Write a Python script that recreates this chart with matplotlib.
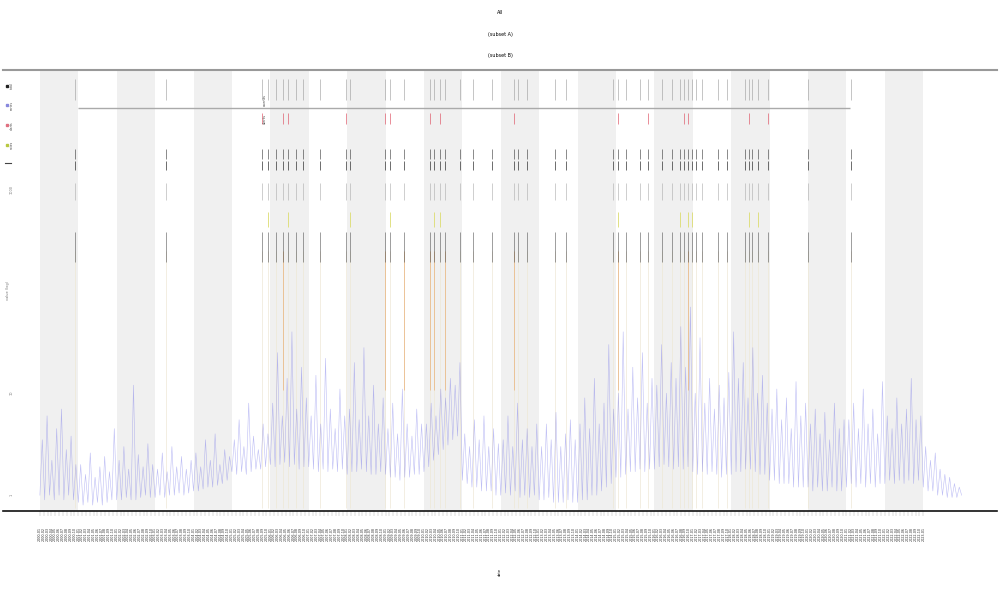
import numpy as np
import matplotlib
matplotlib.use("Agg")
import matplotlib.pyplot as plt

#Data
#Blue series, 16 samples per period (period = one shaded/unshaded band)
samples_per_period = 16
series_values = [
    1.0, 3.5, 0.9, 6.0, 1.0, 2.2, 0.9, 4.5, 1.0, 7.0, 0.9, 2.8, 1.0, 3.8, 0.9, 2.0,
    0.85, 2.0, 0.8, 1.6, 0.85, 2.6, 0.8, 1.5, 0.85, 1.9, 0.8, 2.4, 0.85, 1.7, 0.9, 4.5,
    0.9, 2.2, 0.9, 3.0, 0.95, 1.8, 0.9, 12.0, 0.9, 2.5, 0.95, 1.9, 1.0, 3.2, 0.95, 2.0,
    0.95, 1.8, 1.0, 2.6, 0.95, 1.7, 1.0, 3.0, 1.0, 1.9, 1.05, 2.4, 1.0, 1.8, 1.05, 2.2,
    1.1, 2.6, 1.1, 1.9, 1.15, 3.5, 1.2, 2.2, 1.2, 4.0, 1.25, 2.0, 1.3, 2.8, 1.4, 2.4,
    1.7, 3.5, 1.6, 5.5, 1.7, 3.0, 1.6, 8.0, 1.7, 3.8, 1.8, 2.8, 1.8, 5.0, 1.9, 4.0,
    2.0, 8.0, 1.9, 25.0, 2.0, 6.0, 2.1, 14.0, 1.9, 40.0, 2.0, 7.0, 1.8, 18.0, 1.9, 9.0,
    1.9, 6.0, 1.8, 15.0, 1.7, 5.0, 1.8, 22.0, 1.7, 7.0, 1.8, 4.5, 1.7, 11.0, 1.8, 6.0,
    1.6, 7.0, 1.7, 20.0, 1.7, 5.5, 1.8, 28.0, 1.7, 6.0, 1.6, 12.0, 1.6, 5.0, 1.7, 9.0,
    1.6, 4.5, 1.5, 8.0, 1.5, 4.0, 1.4, 11.0, 1.5, 5.0, 1.5, 3.8, 1.6, 7.0, 1.6, 5.0,
    1.7, 5.0, 1.9, 8.0, 2.2, 6.0, 2.5, 11.0, 2.8, 9.0, 3.1, 14.0, 3.5, 12.0, 3.8, 20.0,
    1.4, 4.0, 1.3, 3.0, 1.2, 5.5, 1.2, 3.5, 1.1, 6.0, 1.1, 3.0, 1.1, 4.5, 1.0, 3.2,
    1.0, 3.5, 1.05, 6.0, 1.0, 3.0, 1.1, 8.0, 0.95, 3.5, 1.0, 4.5, 0.95, 3.0, 1.0, 5.0,
    0.9, 3.0, 0.9, 5.0, 0.95, 3.5, 0.85, 6.5, 0.85, 3.0, 0.85, 4.0, 0.9, 5.5, 0.85, 3.5,
    0.85, 5.0, 0.9, 9.0, 0.9, 4.5, 1.0, 14.0, 1.0, 5.0, 1.1, 8.0, 1.2, 30.0, 1.3, 7.0,
    1.5, 10.0, 1.5, 40.0, 1.6, 7.0, 1.7, 18.0, 1.7, 9.0, 1.8, 25.0, 1.7, 8.0, 1.8, 14.0,
    1.8, 12.0, 1.9, 30.0, 2.0, 10.0, 1.9, 20.0, 1.8, 14.0, 1.9, 45.0, 1.8, 18.0, 1.9, 70.0,
    1.7, 10.0, 1.6, 35.0, 1.7, 8.0, 1.6, 14.0, 1.7, 7.0, 1.6, 12.0, 1.5, 9.0, 1.6, 16.0,
    1.6, 40.0, 1.7, 14.0, 1.7, 20.0, 1.8, 9.0, 1.8, 28.0, 1.7, 10.0, 1.6, 15.0, 1.6, 8.0,
    1.4, 7.0, 1.4, 11.0, 1.3, 5.5, 1.3, 9.0, 1.3, 4.5, 1.2, 13.0, 1.2, 6.0, 1.2, 8.0,
    1.2, 5.0, 1.1, 7.0, 1.2, 4.0, 1.1, 6.5, 1.1, 3.5, 1.2, 8.0, 1.1, 4.5, 1.1, 5.5,
    1.2, 5.5, 1.3, 8.0, 1.2, 4.5, 1.3, 11.0, 1.2, 5.0, 1.3, 7.0, 1.2, 4.0, 1.3, 13.0,
    1.3, 6.0, 1.4, 4.5, 1.3, 9.0, 1.4, 5.0, 1.3, 7.0, 1.4, 14.0, 1.3, 5.5, 1.4, 6.0,
    1.2, 3.0, 1.1, 2.2, 1.1, 2.6, 1.0, 1.8, 1.0, 1.6, 0.95, 1.5, 0.95, 1.3, 0.95, 1.2,
    1.0,
]

#Shaded bands (start of each band, band width 1 period)
band_starts = [0, 2, 4, 6, 8, 10, 12, 14, 16, 18, 20, 22]

#Threshold line
threshold_value = 6300
threshold_start = 1.0
threshold_end = 21.1

#Event positions (periods)
events = [0.91, 3.28, 5.78, 5.94, 6.15, 6.33, 6.46, 6.67, 6.85, 7.29, 7.97, 8.07,
          8.98, 9.11, 9.48, 10.16, 10.26, 10.42, 10.55, 10.94, 11.28, 11.77,
          12.34, 12.45, 12.68, 13.41, 13.70, 14.92, 15.05, 15.26, 15.63, 15.83,
          16.20, 16.46, 16.67, 16.77, 16.88, 16.98, 17.08, 17.24, 17.66, 17.89,
          18.36, 18.46, 18.54, 18.70, 18.96, 20.0, 21.12]
red_events = [5.78, 6.33, 6.46, 7.97, 8.98, 9.11, 10.16, 10.42, 12.34, 15.05,
              15.83, 16.77, 16.88, 18.46, 18.96]
yellow_events = [5.94, 6.46, 8.07, 9.11, 10.26, 10.42, 15.05, 16.67, 16.88,
                 16.98, 18.46, 18.70]
orange_events = [6.33, 8.98, 9.48, 10.16, 10.26, 10.55, 12.34, 15.05, 16.88]

#Tick labels
x_ticks = [i / 10 for i in range(231)]
x_tick_labels = [f"{2000 + i // 10}-{i % 10 + 1:02d}" for i in range(231)]
y_ticks = [1, 10, 1000]
y_tick_labels = ["1", "10", "1000"]

legend_labels = ["total", "series", "alerts", "notes", "limit"]
legend_colors = ["#222222", "#8888dd", "#e07080", "#b8c840", "#444444"]

#Plot
fig = plt.figure(figsize=(10, 6), dpi=100)
ax = fig.add_axes([0.003, 0.148, 0.994, 0.735])

for b in band_starts:
    ax.axvspan(b, b + 1, color="#f0f0f0", lw=0, zorder=0)

x_series = np.arange(len(series_values)) / samples_per_period

#faint full-height event lines
ax.vlines(events, 0.75, 250, colors="#eee8d6", lw=0.5, zorder=1)

#orange long lines
ax.vlines(orange_events, 10.7, 250, colors="#e8a868", lw=0.6, alpha=0.7, zorder=2)

ax.plot(x_series, series_values, color="#6f6fe8", lw=0.4, alpha=0.45, zorder=3)

#event rows
ax.vlines(events, 7500, 12000, colors="#999999", lw=0.4, zorder=4)
ax.vlines(red_events, 4400, 5600, colors="#e06070", lw=0.5, zorder=4)
ax.vlines(events, 2000, 2500, colors="#333333", lw=0.4, zorder=4)
ax.vlines(events, 1530, 1900, colors="#333333", lw=0.5, zorder=4)
ax.vlines(events, 780, 1150, colors="#aaaaaa", lw=0.4, zorder=4)
ax.vlines(yellow_events, 430, 600, colors="#dcdc70", lw=0.6, zorder=4)
ax.vlines(events, 193, 377, colors="#555555", lw=0.4, zorder=4)

ax.text(5.85, 6500, "events", rotation=90, fontsize=2.5, color="#444444",
        ha="center", va="bottom", zorder=5)
ax.text(5.85, 4400, "alerts", rotation=90, fontsize=2.5, color="#444444",
        ha="center", va="bottom", zorder=5)

#threshold
ax.hlines(threshold_value, threshold_start, threshold_end, colors="#aaaaaa", lw=1.0, zorder=4)

ax.set_yscale("log")
ax.set_xlim(-0.96, 24.92)
ax.set_ylim(0.697, 14680)

ax.set_xticks(x_ticks)
ax.set_xticklabels(x_tick_labels, rotation=90, fontsize=2.4, color="#333333")
ax.tick_params(axis="x", length=3.6, width=0.3, color="#aaaaaa", pad=8)

ax.set_yticks(y_ticks)
ax.set_yticklabels(y_tick_labels, rotation=90, fontsize=2.5, color="#777777", va="center")
ax.yaxis.set_minor_locator(matplotlib.ticker.NullLocator())
ax.tick_params(axis="y", length=0, pad=-5)
for lab in ax.get_yticklabels():
    lab.set_horizontalalignment("left")

ax.text(0.003, 0.5, "value (log)", rotation=90, fontsize=2.5, color="#777777",
        transform=ax.transAxes, ha="left", va="center")

for s in ["left", "right"]:
    ax.spines[s].set_visible(False)
ax.spines["top"].set_color("#999999")
ax.spines["top"].set_linewidth(1.5)
ax.spines["bottom"].set_color("#111111")
ax.spines["bottom"].set_linewidth(1.2)

#Legend (drawn by hand, vertical text)
legend_y = [0.965, 0.92, 0.875, 0.83, 0.79]
for i in range(4):
    ax.plot([0.004], [legend_y[i]], marker="s", ms=2, color=legend_colors[i],
            transform=ax.transAxes, clip_on=False)
    ax.text(0.007, legend_y[i], legend_labels[i], rotation=90, fontsize=2.2,
            color="#444444", transform=ax.transAxes, ha="left", va="center")
ax.plot([0.002, 0.008], [legend_y[4], legend_y[4]], color=legend_colors[4], lw=0.8,
        transform=ax.transAxes)

#Titles
fig.text(0.5, 0.98, "All", ha="center", va="center", fontsize=3.5)
fig.text(0.5, 0.942, "(subset A)", ha="center", va="center", fontsize=3.5)
fig.text(0.5, 0.908, "(subset B)", ha="center", va="center", fontsize=3.5)
fig.text(0.5, 0.047, "date", ha="center", va="center", rotation=90, fontsize=2.5)

fig.savefig("out.png", dpi=100)
